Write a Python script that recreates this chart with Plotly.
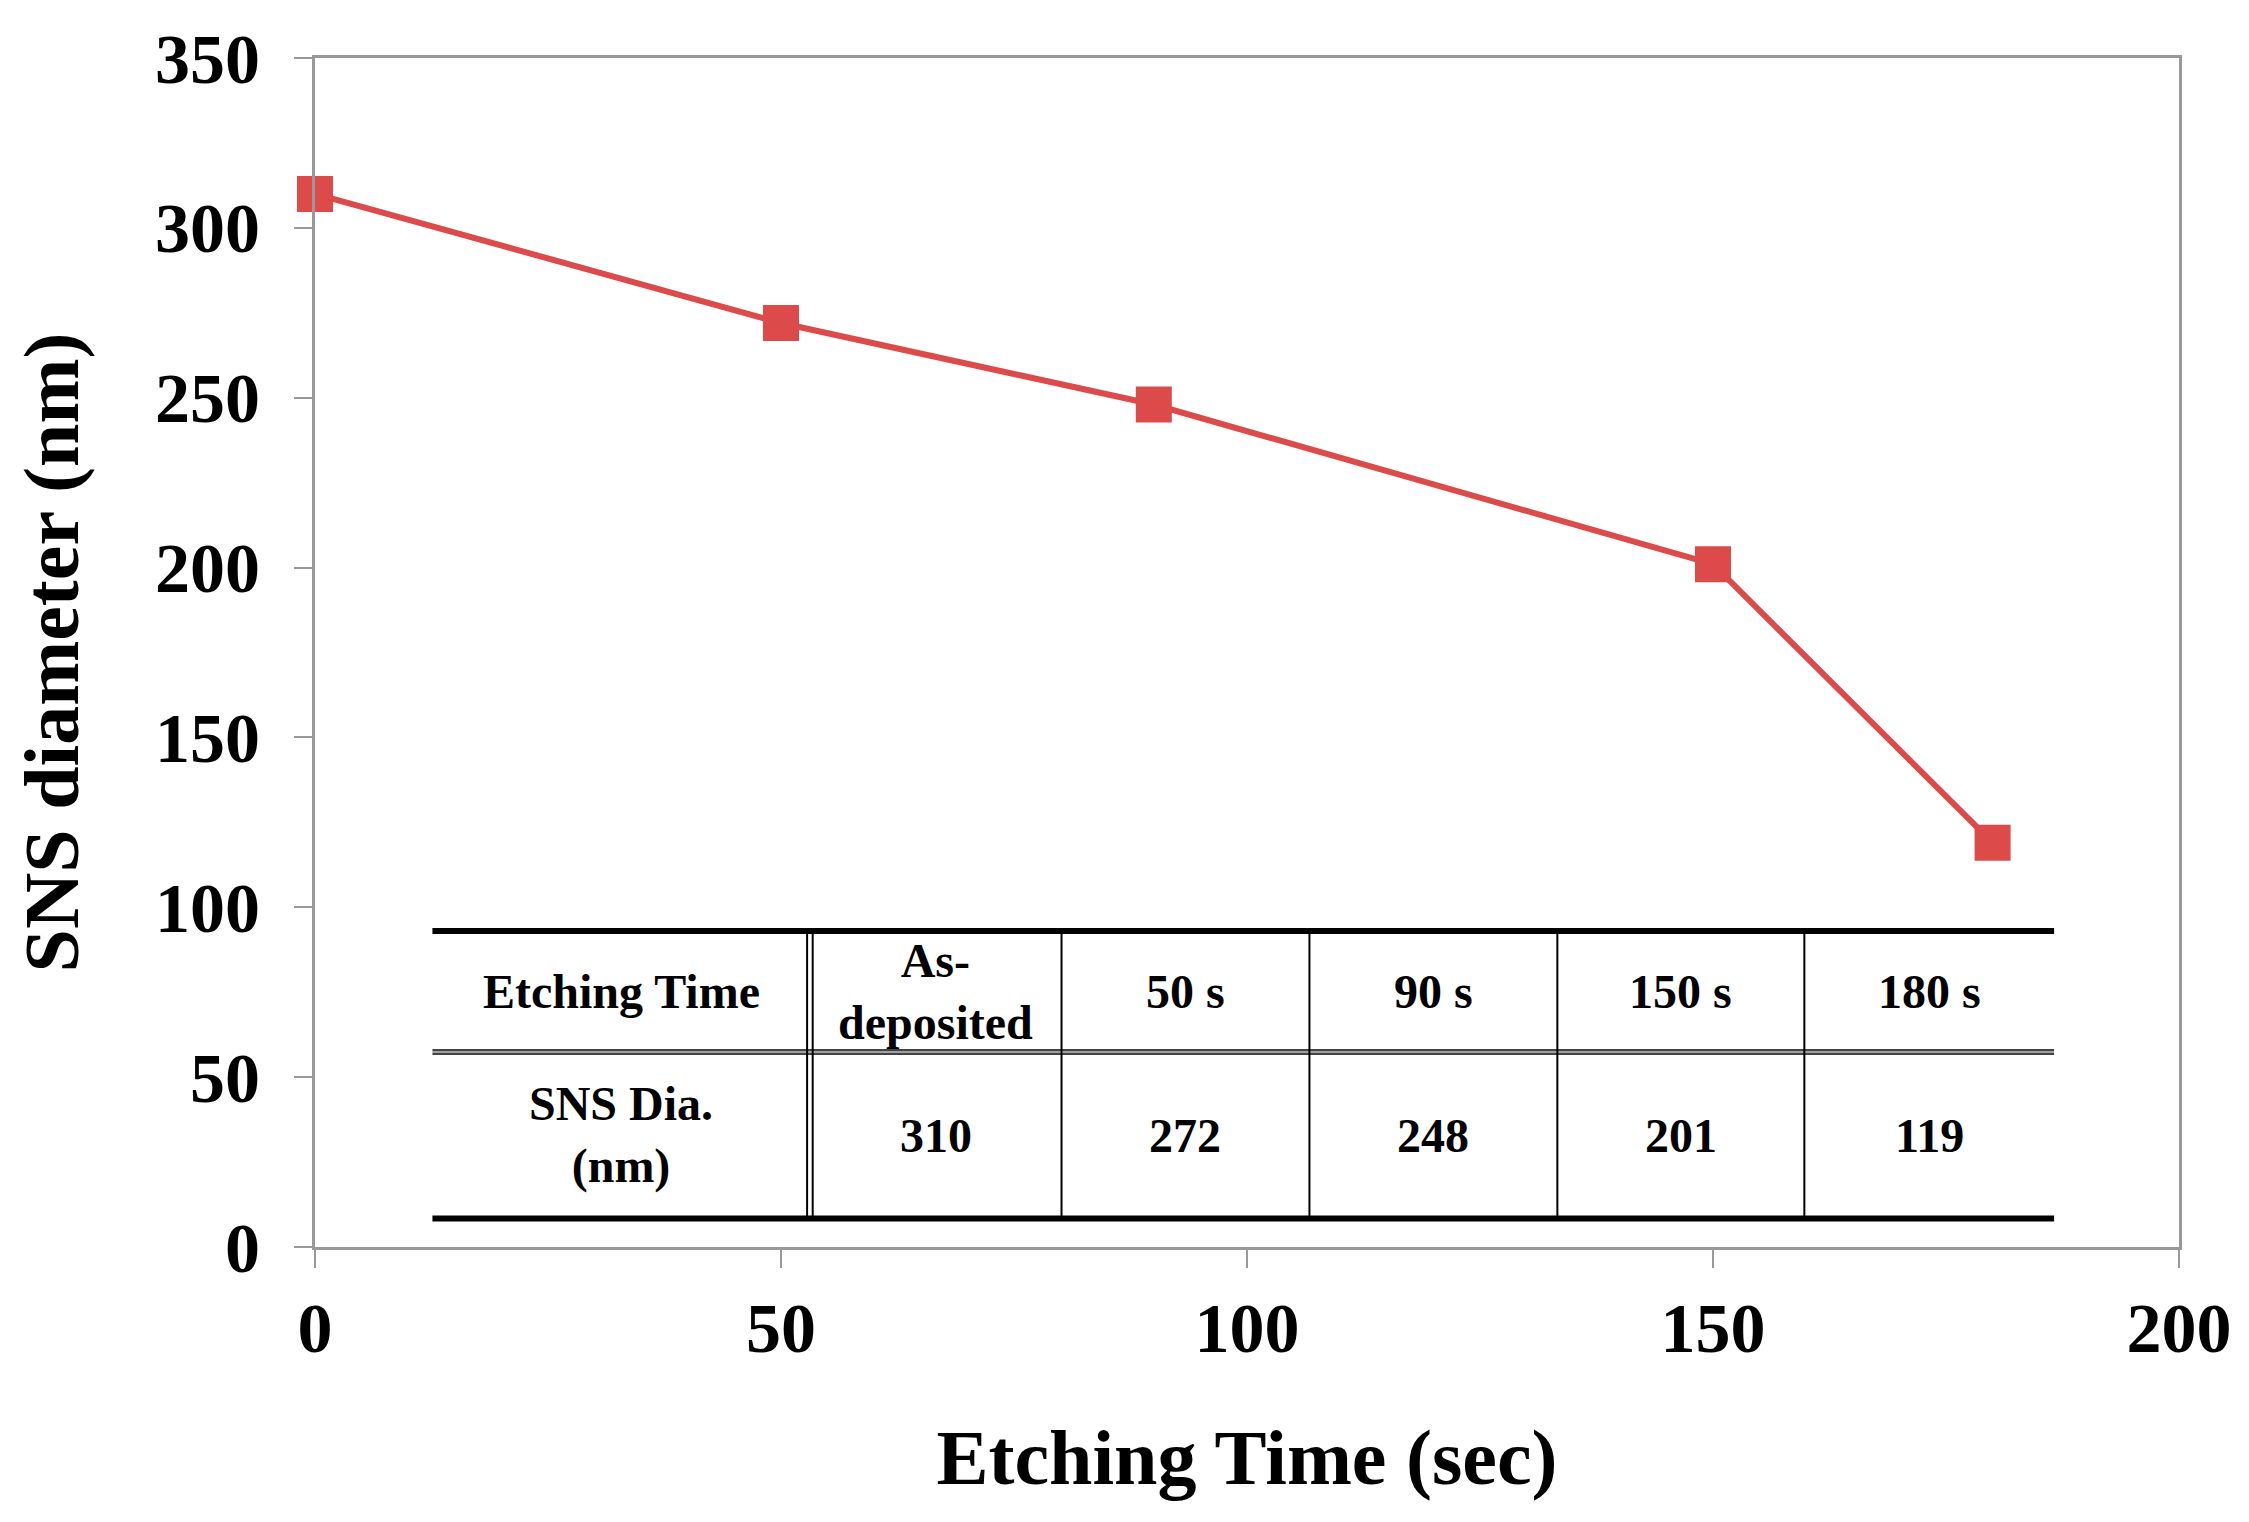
import plotly.graph_objects as go

etch_time = [0, 50, 90, 150, 180]
diameter = [310, 272, 248, 201, 119]
table_header = ["Etching Time", "As-<br>deposited", "50 s", "90 s", "150 s", "180 s"]
table_values = ["SNS Dia.<br>(nm)", "310", "272", "248", "201", "119"]

FONT = "Liberation Serif"
RED = "#DC4A4A"

fig = go.Figure()
fig.add_trace(go.Scatter(
    x=etch_time, y=diameter, mode="lines+markers",
    line=dict(color=RED, width=6),
    marker=dict(symbol="square", size=36, color=RED),
    showlegend=False, cliponaxis=False,
))

# table geometry (data coords)
tx0, tx1 = 12.6, 186.6
ty_top, ty_mid, ty_bot = 93.0, 57.4, 8.4
col_edges = [tx0, 53.1, 80.1, 106.7, 133.3, 159.8, tx1]

shapes = []
shapes.append(dict(type="rect", xref="x", yref="y", x0=tx0, x1=tx1, y0=ty_bot, y1=ty_top,
                   fillcolor="white", line=dict(width=0), layer="above"))
for yy in (ty_top, ty_bot):
    shapes.append(dict(type="line", xref="x", yref="y", x0=tx0, x1=tx1, y0=yy, y1=yy,
                       line=dict(color="black", width=6), layer="above"))
for yy in (ty_mid + 0.5, ty_mid - 0.5):
    shapes.append(dict(type="line", xref="x", yref="y", x0=tx0, x1=tx1, y0=yy, y1=yy,
                       line=dict(color="#444444", width=2.5), layer="above"))
for i, xx in enumerate(col_edges[1:-1]):
    if i == 0:
        for dx in (-0.3, 0.3):
            shapes.append(dict(type="line", xref="x", yref="y", x0=xx + dx, x1=xx + dx,
                               y0=ty_bot, y1=ty_top, line=dict(color="black", width=2), layer="above"))
    else:
        shapes.append(dict(type="line", xref="x", yref="y", x0=xx, x1=xx,
                           y0=ty_bot, y1=ty_top, line=dict(color="black", width=2), layer="above"))

annotations = []
row_centers = [(ty_top + ty_mid) / 2, (ty_mid + ty_bot) / 2]
for r, row in enumerate([table_header, table_values]):
    for c, txt in enumerate(row):
        xc = (col_edges[c] + col_edges[c + 1]) / 2
        annotations.append(dict(x=xc, y=row_centers[r], xref="x", yref="y",
                                text="<b>" + txt.replace("<br>", "</b><br><b>") + "</b>",
                                showarrow=False, font=dict(family=FONT, size=48, color="black"),
                                align="center"))

fig.update_layout(
    width=2249, height=1522,
    paper_bgcolor="white", plot_bgcolor="white",
    margin=dict(l=307, r=78, t=42, b=283),
    shapes=shapes, annotations=annotations,
    font=dict(family=FONT, color="black"),
)
fig.update_xaxes(
    range=[0, 200], tickvals=[0, 50, 100, 150, 200],
    showgrid=False, zeroline=False,
    showline=True, linecolor="#999999", linewidth=3, mirror=True,
    ticks="outside", ticklen=18, tickcolor="#999999", tickwidth=2,
    tickfont=dict(family=FONT, size=70, color="black", weight="bold"),
    title=dict(text="<b>Etching Time (sec)</b>", font=dict(family=FONT, size=78, color="black"), standoff=64),
)
fig.update_yaxes(
    range=[0, 350], tickvals=[0, 50, 100, 150, 200, 250, 300, 350],
    showgrid=False, zeroline=False,
    showline=True, linecolor="#999999", linewidth=3, mirror=True,
    ticks="outside", ticklen=18, tickcolor="#999999", tickwidth=2,
    ticklabelstandoff=20,
    tickfont=dict(family=FONT, size=70, color="black", weight="bold"),
    title=dict(text="<b>SNS diameter (nm)</b>", font=dict(family=FONT, size=78, color="black"), standoff=70),
)

fig.write_html("out.html")
